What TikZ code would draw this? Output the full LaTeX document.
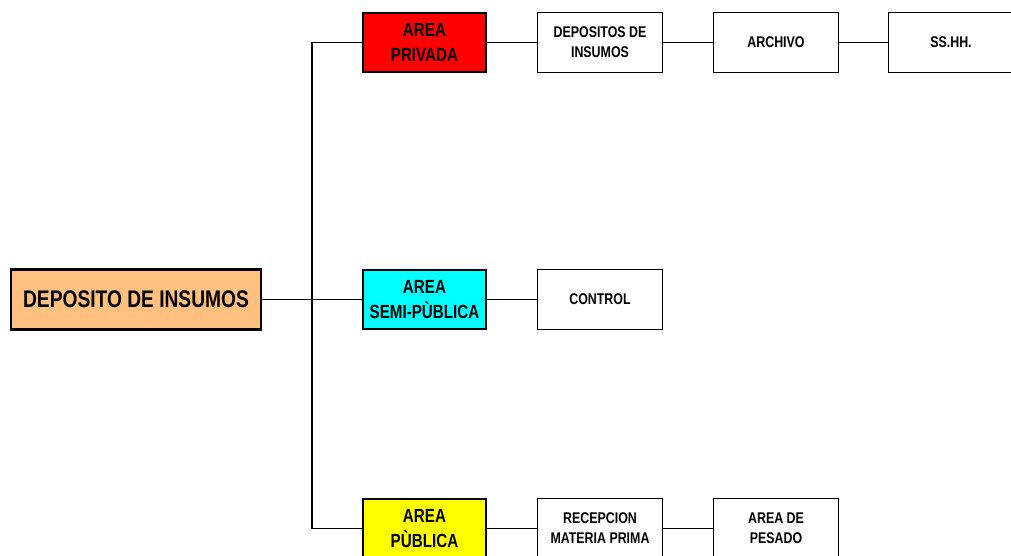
\documentclass[tikz,border=0pt]{standalone}
\usepackage{fontspec}
\setmainfont[FakeStretch=0.80]{Liberation Sans}
\usepackage{tikz}
\usetikzlibrary{positioning}
\definecolor{naranja}{RGB}{255,192,128}
\definecolor{celeste}{RGB}{0,255,255}
\definecolor{amarillo}{RGB}{255,255,0}
\definecolor{rojo}{RGB}{255,0,0}
\tikzset{
  zona/.style = {draw, line width=2.4pt, minimum width=123pt, minimum height=59pt,
                 align=center, font=\bfseries\fontsize{19}{25}\selectfont},
  caja/.style = {draw, line width=1.6pt, fill=white, minimum width=125pt, minimum height=60pt,
                 align=center, font=\bfseries\fontsize{15.5}{20}\selectfont},
  linea/.style = {line width=1.4pt}
}
\begin{document}
\begin{tikzpicture}[x = 1pt, y = -1pt]
          \useasboundingbox (0,0) rectangle (1011,556);
          \clip (0,0) rectangle (1011,556);
          % nodo principal
          \node[draw, line width=2.6pt, fill=naranja, minimum width=250pt, minimum height=60pt,
                font=\bfseries\fontsize{24}{28}\selectfont] (dep) at (136,299.5) {DEPOSITO DE INSUMOS};
          % areas
          \node[zona, fill=rojo] (priv) at (424.5,42.5) {AREA\\PRIVADA};
          \node[zona, fill=celeste] (semi) at (424.5,299.5) {AREA\\SEMI-PÙBLICA};
          \node[zona, fill=amarillo] (pub) at (424.5,528.5) {AREA\\PÙBLICA};
          % ambientes
          \node[caja] (depins) at (600,42.5) {DEPOSITOS DE\\INSUMOS};
          \node[caja] (arch) at (776,42.5) {ARCHIVO};
          \node[caja] (sshh) at (951,42.5) {SS.HH.};
          \node[caja] (ctrl) at (600,299.5) {CONTROL};
          \node[caja] (recep) at (600,528.5) {RECEPCION\\MATERIA PRIMA};
          \node[caja] (pesado) at (776,528.5) {AREA DE\\PESADO};
          % conexiones
          \coordinate (tronco) at (312,299.5);
          \draw[linea] (dep.east) -- (semi.west);
          \draw[linea] (priv.west) -| (tronco) |- (pub.west);
          \draw[linea] (priv) -- (depins) -- (arch) -- (sshh);
          \draw[linea] (semi) -- (ctrl);
          \draw[linea] (pub) -- (recep) -- (pesado);
        \end{tikzpicture}
\end{document}
